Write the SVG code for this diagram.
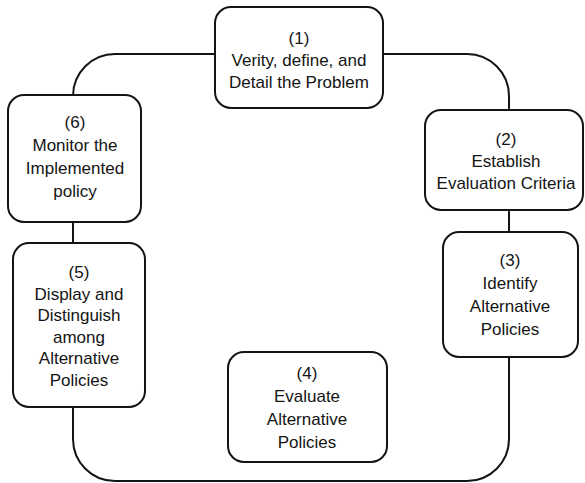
<svg xmlns="http://www.w3.org/2000/svg" width="585" height="483" viewBox="0 0 585 483">
  <style>
    .box { fill: #ffffff; stroke: #141414; stroke-width: 2; }
    .wire { fill: none; stroke: #141414; stroke-width: 2; }
    .lbl { font-family: "Liberation Sans", Arial, sans-serif; font-size: 17px; fill: #141414; text-anchor: middle; }
  </style>
  <rect width="585" height="483" fill="#ffffff"/>

  <!-- loop connectors joining the six stages -->
  <g id="connectors">
    <path class="wire" d="M215,54 H115 A42,42 0 0 0 73,96 V95"/>
    <path class="wire" d="M383,54 H467 A42,42 0 0 1 509,96 V110"/>
    <path class="wire" d="M509,210 V232"/>
    <path class="wire" d="M509,357 V439 A42,42 0 0 1 467,481 H115 A42,42 0 0 1 73,439 V407"/>
    <path class="wire" d="M73,222 V243"/>
  </g>

  <g id="step1">
    <rect class="box" x="215" y="7" width="168" height="101" rx="16"/>
    <text class="lbl" x="299" y="44">(1)</text>
    <text class="lbl" x="299" y="66">Verity, define, and</text>
    <text class="lbl" x="299" y="88">Detail the Problem</text>
  </g>

  <g id="step2">
    <rect class="box" x="425" y="110" width="158" height="100" rx="16"/>
    <text class="lbl" x="506" y="145">(2)</text>
    <text class="lbl" x="506" y="167">Establish</text>
    <text class="lbl" x="506" y="189">Evaluation Criteria</text>
  </g>

  <g id="step3">
    <rect class="box" x="443" y="232" width="135" height="125" rx="16"/>
    <text class="lbl" x="510" y="266">(3)</text>
    <text class="lbl" x="510" y="289">Identify</text>
    <text class="lbl" x="510" y="312">Alternative</text>
    <text class="lbl" x="510" y="335">Policies</text>
  </g>

  <g id="step4">
    <rect class="box" x="228" y="352" width="159" height="110" rx="16"/>
    <text class="lbl" x="307" y="379">(4)</text>
    <text class="lbl" x="307" y="402">Evaluate</text>
    <text class="lbl" x="307" y="425">Alternative</text>
    <text class="lbl" x="307" y="448">Policies</text>
  </g>

  <g id="step5">
    <rect class="box" x="13" y="243" width="132" height="164" rx="16"/>
    <text class="lbl" x="79" y="278">(5)</text>
    <text class="lbl" x="79" y="299.5">Display and</text>
    <text class="lbl" x="79" y="321">Distinguish</text>
    <text class="lbl" x="79" y="342.5">among</text>
    <text class="lbl" x="79" y="364">Alternative</text>
    <text class="lbl" x="79" y="385.5">Policies</text>
  </g>

  <g id="step6">
    <rect class="box" x="8" y="95" width="133" height="127" rx="16"/>
    <text class="lbl" x="75" y="128">(6)</text>
    <text class="lbl" x="75" y="151">Monitor the</text>
    <text class="lbl" x="75" y="174">Implemented</text>
    <text class="lbl" x="75" y="197">policy</text>
  </g>
</svg>
